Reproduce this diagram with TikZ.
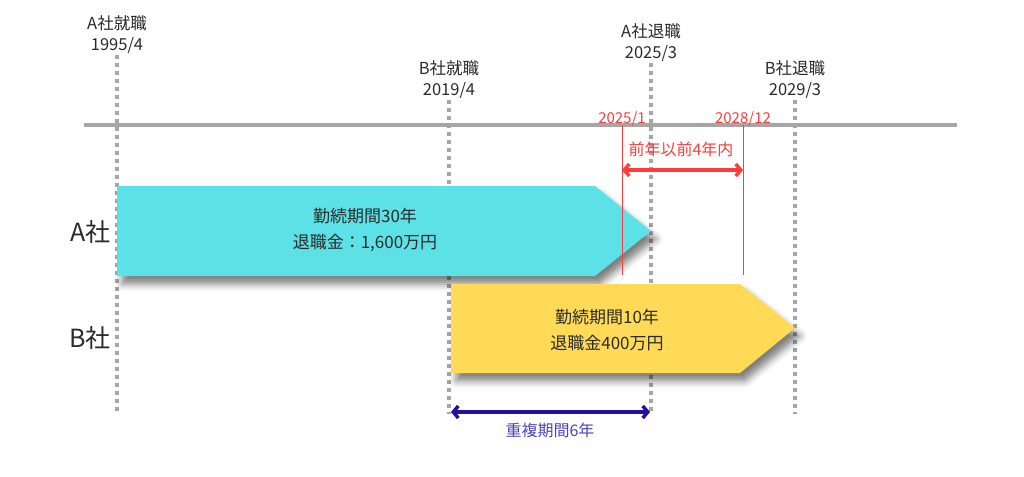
\documentclass[tikz,border=0pt]{standalone}
\usepackage{fontspec}
\setmainfont{Noto Sans CJK JP}
\usetikzlibrary{positioning,arrows.meta,shadows.blur}
\definecolor{acyan}{HTML}{5CE1E6}
\definecolor{byellow}{HTML}{FFDA57}
\definecolor{linegray}{HTML}{A6A6A6}
\definecolor{redline}{HTML}{FF3B3B}
\definecolor{darkblue}{HTML}{2010A8}
\definecolor{bluetext}{HTML}{4A42C4}
\definecolor{textgray}{HTML}{2B2B2B}

\begin{document}
\begin{tikzpicture}[x=1pt,y=-1pt,font=\fontsize{16.5}{21}\selectfont,text=textgray,
	dots/.style={draw=linegray,line width=4pt,dash pattern=on 4pt off 4pt},
	datelabel/.style={above=0pt,yshift=-2pt,align=center},
	redlabel/.style={text=redline,font=\fontsize{16}{18}\selectfont},
	company/.style={anchor=east,font=\fontsize{25}{28}\selectfont},
	period/.style={draw=none,blur shadow={shadow xshift=5pt,shadow yshift=-8pt,shadow blur radius=7pt,shadow opacity=50}},
	span/.style={line width=3.5pt,{Straight Barb[length=5pt,width=12pt]}-{Straight Barb[length=5pt,width=12pt]}}]
			\useasboundingbox (0,0) rectangle (1024,476);
			
			\foreach \x/\yt/\nm/\txt in {117/55/aJoin/{A社就職\\1995/4},449/100/bJoin/{B社就職\\2019/4},651/63/aLeave/{A社退職\\2025/3},795/100/bLeave/{B社退職\\2029/3}}
			{
				\coordinate (\nm T) at (\x,\yt);
				\coordinate (\nm B) at (\x,414);
				\draw[dots] (\nm T) -- (\nm B);
				\node[datelabel] (\nm) at (\nm T) {\txt};
			}
			
			\draw[linegray,line width=4pt] (84,125) coordinate (lineL) -- (957,125) coordinate (lineR);
			
			% periods
			\draw[fill=acyan,period] (117,186) -- (595,186) -- (651,231) -- (595,276) -- (117,276) -- cycle;
			\draw[fill=byellow,period] (451,284) -- (740,284) -- (795,328) -- (740,373) -- (451,373) -- cycle;
			\node[align=center,font=\fontsize{17}{26}\selectfont] (aText) at (365,230) {勤続期間30年\\退職金：1,600万円};
			\node[align=center,font=\fontsize{17}{26}\selectfont] (bText) at (607,330) {勤続期間10年\\退職金400万円};
			\node[company] (aCo) at (114,232) {A社};
			\node[company] (bCo) at (114,338) {B社};
			
			% four years
			\coordinate (rFromT) at (622,125); \coordinate (rFromB) at (622,275);
			\coordinate (rToT) at (743,125); \coordinate (rToB) at (743,275);
			\draw[redline,line width=1pt] (rFromT) -- (rFromB);
			\draw[redline,line width=1pt] (rToT) -- (rToB);
			\node[redlabel,font=\fontsize{15}{16}\selectfont,anchor=base] (rFrom) at (622,123) {2025/1};
			\node[redlabel,font=\fontsize{15}{16}\selectfont,anchor=base] (rTo) at (743,123) {2028/12};
			\coordinate (rL) at (622,170); \coordinate (rR) at (743,170);
			\draw[redline,span] (rL) -- (rR);
			\node[redlabel] (rText) at (681,149) {前年以前4年内};
			
			% overlap
			\coordinate (oL) at (451,412); \coordinate (oR) at (650,412);
			\draw[darkblue,span] (oL) -- (oR);
			\node[text=bluetext,font=\fontsize{16}{18}\selectfont] (oText) at (550,430) {重複期間6年};
		\end{tikzpicture}
\end{document}
